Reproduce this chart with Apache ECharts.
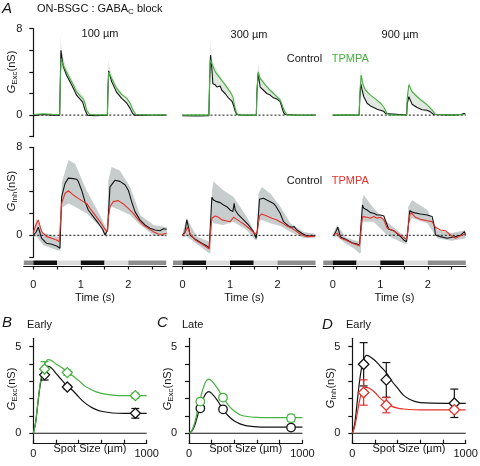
<!DOCTYPE html>
<html><head><meta charset="utf-8">
<script src="https://cdn.jsdelivr.net/npm/echarts@6/dist/echarts.min.js"></script>
<style>html,body{margin:0;padding:0;background:#fff}#c{width:480px;height:466px}</style>
</head><body><div id="c"></div>
<script>
// ---------------- DATA ----------------
const spotLabels = ['100 µm', '300 µm', '900 µm'];
// Excitatory conductance traces [time s, nS]
const excCtrl100 = [[0,-0.05],[0.2,0.05],[0.4,0],[0.555,-0.02],[0.57,3.5],[0.582,6.0],[0.6,5.4],[0.632,4.5],[0.70,3.7],[0.77,3.1],[0.84,2.5],[0.91,1.85],[0.98,1.5],[1.04,1.2],[1.09,0.45],[1.14,0],[1.3,-0.06],[1.56,-0.02],[1.57,2.0],[1.586,4.1],[1.65,3.1],[1.75,2.15],[1.86,1.55],[1.97,1.1],[2.04,0.6],[2.09,0.15],[2.14,0],[2.5,-0.02],[2.8,0]];
const excTp100 = [[0,0.05],[0.2,0.12],[0.4,0.08],[0.555,0.05],[0.57,3.0],[0.582,5.25],[0.632,4.6],[0.70,4.0],[0.77,3.4],[0.84,2.8],[0.91,2.15],[0.98,1.8],[1.05,1.5],[1.09,1.1],[1.12,0.45],[1.19,0.05],[1.4,0.02],[1.56,0.02],[1.57,2.0],[1.586,4.0],[1.65,3.4],[1.75,2.5],[1.86,1.9],[1.97,1.55],[2.04,1.1],[2.1,0.45],[2.16,0.05],[2.5,0],[2.8,0.02]];
const excCtrl300 = [[0,-0.05],[0.3,-0.08],[0.555,-0.05],[0.568,2.5],[0.59,5.55],[0.618,4.3],[0.639,2.9],[0.688,2.8],[0.723,2.6],[0.758,2.5],[0.793,2.7],[0.828,2.3],[0.898,2.0],[0.968,1.6],[1.039,1.3],[1.074,0.9],[1.109,0.35],[1.144,0.05],[1.3,-0.03],[1.555,-0.02],[1.565,2.0],[1.593,3.85],[1.635,2.6],[1.705,2.3],[1.775,2.0],[1.846,1.85],[1.916,1.6],[1.986,1.5],[2.056,1.25],[2.091,0.75],[2.126,0.25],[2.161,0.05],[2.5,-0.02],[2.8,0]];
const excTp300 = [[0,0],[0.3,0.02],[0.555,0],[0.568,2.5],[0.582,5.1],[0.618,4.8],[0.688,4.0],[0.793,3.4],[0.898,2.8],[1.004,2.15],[1.06,1.7],[1.095,0.9],[1.13,0.25],[1.179,0],[1.555,0],[1.565,2.0],[1.593,4.0],[1.635,3.4],[1.74,2.8],[1.846,2.3],[1.951,1.85],[2.056,1.4],[2.112,0.75],[2.161,0.25],[2.211,0],[2.8,0]];
const excCtrl900 = [[0,-0.03],[0.3,0],[0.555,-0.02],[0.568,1.5],[0.59,2.9],[0.618,2.3],[0.653,1.7],[0.723,1.1],[0.793,0.85],[0.863,0.7],[0.933,0.55],[1.004,0.45],[1.074,0.35],[1.109,0.15],[1.144,0],[1.555,0],[1.565,1.0],[1.60,1.7],[1.67,1.0],[1.775,0.7],[1.881,0.5],[1.986,0.45],[2.056,0.3],[2.126,0.05],[2.5,0],[2.7,0.05],[2.76,0.15],[2.79,0.1]];
const excTp900 = [[0,0],[0.3,0.02],[0.555,0],[0.568,2.0],[0.596,3.7],[0.639,2.8],[0.688,2.3],[0.793,1.85],[0.898,1.5],[1.004,1.1],[1.074,0.75],[1.13,0.25],[1.179,0],[1.555,0],[1.565,1.5],[1.60,2.8],[1.67,2.15],[1.775,1.7],[1.881,1.3],[1.986,0.95],[2.091,0.45],[2.161,0.05],[2.5,0],[2.79,0.05]];
// SEM bands [time, low, high]
const excBand100 = [[0.555,0,0.2],[0.575,4.5,7.4],[0.6,4.3,6.0],[0.65,4.0,5.0],[0.75,3.2,3.9],[0.9,2.0,2.6],[1.05,1.2,1.8],[1.12,0.3,0.8],[1.19,0,0.15],[1.56,0,0.1],[1.58,3.6,5.1],[1.62,3.3,4.2],[1.75,2.0,2.7],[1.95,1.1,1.75],[2.1,0.2,0.6],[2.17,0,0.1]];
const excBand300 = [[0.555,0,0.2],[0.59,4.6,6.9],[0.62,4.2,5.3],[0.65,2.8,4.7],[0.8,2.5,3.6],[1.0,1.7,2.3],[1.1,0.3,1.0],[1.18,0,0.1],[1.555,0,0.1],[1.59,3.6,4.9],[1.64,2.5,3.6],[1.85,1.8,2.4],[2.05,1.2,1.6],[2.15,0.1,0.5],[2.21,0,0.05]];
const excBand900 = [[0.555,0,0.2],[0.59,2.7,4.6],[0.63,1.7,3.0],[0.75,0.9,2.0],[1.0,0.4,1.2],[1.15,0,0.3],[1.2,0,0.05],[1.555,0,0.1],[1.6,1.6,3.1],[1.7,0.8,2.2],[1.9,0.4,1.4],[2.1,0.05,0.6],[2.2,0,0.05]];
// Inhibitory conductance traces
const inhCtrl100 = [[0,0],[0.06,0.3],[0.105,0.73],[0.175,-0.27],[0.281,-0.73],[0.386,-0.82],[0.491,-0.97],[0.561,-1.18],[0.575,-1.1],[0.596,3.5],[0.667,4.7],[0.737,5.2],[0.842,5.15],[0.912,5.1],[0.947,4.9],[1.018,4.1],[1.088,3.06],[1.158,2.3],[1.263,1.7],[1.368,1.1],[1.46,0.55],[1.509,0.03],[1.544,-0.12],[1.565,0.5],[1.614,4.4],[1.719,5.0],[1.754,5.05],[1.825,4.9],[1.93,4.6],[2.0,4.1],[2.07,3.06],[2.14,2.15],[2.246,1.4],[2.351,0.94],[2.456,0.64],[2.561,0.48],[2.667,0.42],[2.74,0.6],[2.807,0.55]];
const inhTp100 = [[0,0.2],[0.05,0.9],[0.105,1.4],[0.175,0.33],[0.281,-0.12],[0.386,-0.27],[0.491,-0.42],[0.547,-0.58],[0.575,-0.45],[0.596,2.9],[0.667,3.8],[0.737,4.05],[0.842,3.67],[0.947,3.36],[1.053,3.06],[1.123,2.9],[1.193,2.45],[1.298,1.85],[1.404,1.24],[1.509,0.55],[1.558,0.33],[1.579,1.5],[1.614,2.6],[1.684,3.06],[1.789,3.15],[1.895,2.85],[2.0,2.45],[2.105,2.0],[2.211,1.4],[2.316,0.94],[2.421,0.64],[2.526,0.33],[2.632,0.12],[2.737,0.09],[2.807,0.18]];
const inhCtrl300 = [[0,0],[0.05,0.3],[0.091,1.4],[0.161,0.03],[0.267,-0.36],[0.407,-0.73],[0.512,-0.97],[0.561,-1.18],[0.58,-1.0],[0.618,3.45],[0.653,3.2],[0.723,3.06],[0.793,2.97],[0.863,2.76],[0.933,2.6],[1.004,2.3],[1.06,2.15],[1.088,2.9],[1.109,2.3],[1.179,1.85],[1.284,1.4],[1.389,0.94],[1.495,0.33],[1.551,-0.27],[1.575,0.5],[1.621,3.27],[1.705,3.36],[1.775,3.2],[1.846,3.06],[1.916,2.9],[1.972,2.6],[2.056,2.0],[2.126,1.24],[2.232,0.85],[2.302,0.73],[2.351,0.79],[2.407,0.48],[2.512,0.18],[2.618,-0.06],[2.793,-0.05]];
const inhTp300 = [[0,0],[0.05,0.2],[0.105,0.73],[0.161,0.12],[0.267,-0.42],[0.407,-0.79],[0.512,-1.09],[0.561,-1.24],[0.58,-1.1],[0.618,1.55],[0.688,1.76],[0.758,1.64],[0.828,1.4],[0.933,1.3],[1.004,1.24],[1.074,1.64],[1.144,1.45],[1.214,1.24],[1.319,0.94],[1.425,0.55],[1.53,0.12],[1.551,-0.06],[1.575,0.3],[1.621,1.76],[1.67,1.94],[1.775,1.76],[1.881,1.55],[1.986,1.4],[2.091,1.15],[2.196,0.85],[2.302,0.64],[2.407,0.33],[2.512,0.03],[2.618,-0.12],[2.793,-0.1]];
const inhCtrl900 = [[0.02,0],[0.06,0.3],[0.105,0.73],[0.161,-0.15],[0.267,-0.36],[0.407,-0.67],[0.512,-0.79],[0.561,-0.88],[0.58,-0.7],[0.625,2.76],[0.653,2.45],[0.723,2.3],[0.793,2.06],[0.863,2.0],[0.933,1.85],[1.004,1.85],[1.074,1.76],[1.13,1.1],[1.179,0.55],[1.284,0.42],[1.389,0.03],[1.495,-0.42],[1.551,-0.58],[1.575,0.2],[1.621,2.24],[1.705,2.06],[1.846,1.94],[1.986,1.85],[2.091,1.7],[2.14,0.79],[2.161,0.03],[2.267,-0.12],[2.407,-0.27],[2.547,-0.15],[2.688,0],[2.772,0.33],[2.793,0.05]];
const inhTp900 = [[0.02,0.1],[0.06,0.15],[0.105,0.18],[0.161,-0.27],[0.267,-0.42],[0.407,-0.73],[0.512,-0.88],[0.561,-0.97],[0.58,-0.8],[0.625,1.7],[0.723,1.64],[0.793,1.55],[0.863,1.7],[0.933,1.55],[1.004,1.64],[1.074,1.4],[1.144,0.64],[1.249,0.48],[1.354,0.18],[1.46,-0.12],[1.551,-0.36],[1.575,0.3],[1.621,1.85],[1.649,2.06],[1.74,1.64],[1.846,1.45],[1.986,1.33],[2.091,1.24],[2.161,0.73],[2.267,0.48],[2.372,0.42],[2.477,0.03],[2.582,-0.27],[2.688,-0.05],[2.793,0.12]];
const inhBand100 = [[0,-0.2,0.3],[0.07,-0.1,1.55],[0.21,-0.9,0.2],[0.49,-1.33,-0.12],[0.57,-1.4,-0.2],[0.6,2.5,4.8],[0.74,2.9,6.85],[0.88,2.6,6.5],[1.12,2.0,4.1],[1.40,0.8,1.85],[1.55,-0.3,0.5],[1.58,2.0,5.0],[1.65,2.6,6.2],[1.82,2.3,5.9],[2.04,1.85,4.4],[2.25,0.94,1.85],[2.53,0,0.94],[2.81,-0.12,0.73]];
const inhBand300 = [[0,-0.2,0.2],[0.09,-0.1,1.55],[0.30,-0.79,-0.12],[0.56,-1.64,-0.58],[0.59,-1.6,-0.5],[0.62,1.4,4.0],[0.65,1.1,4.9],[0.86,0.94,4.1],[1.07,1.24,3.5],[1.35,0.48,1.7],[1.53,-0.42,0.18],[1.575,-0.4,0.2],[1.6,1.3,3.8],[1.67,1.4,4.4],[1.85,1.1,3.8],[2.06,0.85,2.6],[2.27,0.33,1.1],[2.55,-0.27,0.3],[2.79,-0.2,0.15]];
const inhBand900 = [[0.02,-0.2,0.3],[0.09,-0.1,0.94],[0.28,-0.8,-0.2],[0.44,-1.18,-0.42],[0.56,-1.64,-0.58],[0.59,-1.6,-0.5],[0.62,1.3,3.2],[0.65,1.24,3.67],[0.86,1.24,2.45],[1.14,0.03,1.24],[1.43,-0.6,0.18],[1.56,-0.8,-0.2],[1.59,1.0,2.6],[1.67,1.55,3.2],[1.99,1.1,2.3],[2.2,-0.27,0.48],[2.5,-0.5,0.2],[2.79,-0.3,0.45]];
// Stimulus protocol segments (s); level 0 = light, 1 = mean grey, 2 = dark
const stimStart = [-0.2, 0, 0.5, 1.0, 1.5, 2.0];
const stimEnd = [0, 0.5, 1.0, 1.5, 2.0, 2.8];
const stimLevel = [1, 2, 0, 2, 0, 1];
const timeTicks = [0, 0.5, 1, 1.5, 2, 2.5];
const timeLabels = [0, 1, 2];
// Spot-size tuning (µm, nS)
const spotX = [100, 300, 900];
const bCtrl = [3.37, 2.67, 1.15], bCtrlErr = [0.3, 0.1, 0.28];
const bTp = [3.71, 3.5, 2.17], bTpErr = [0.42, 0.15, 0.15];
const cCtrl = [1.44, 1.38, 0.33], cCtrlErr = [0.1, 0.1, 0.05];
const cTp = [1.83, 2.06, 0.87], cTpErr = [0.12, 0.12, 0.18];
const dCtrl = [3.98, 3.08, 1.73], dCtrlErr = [1.25, 1.0, 0.82];
const dTp = [2.35, 1.62, 1.35], dTpErr = [0.73, 0.44, 0.12];
const bFitCtrl = [[0,0],[20,0.6],[40,1.7],[60,2.75],[80,3.4],[100,3.75],[120,3.87],[140,3.85],[170,3.7],[200,3.45],[250,3.08],[300,2.72],[350,2.45],[400,2.1],[450,1.78],[500,1.55],[550,1.38],[600,1.27],[700,1.17],[800,1.15],[1000,1.15]];
const bFitTp = [[0,0],[20,0.6],[40,1.75],[60,2.85],[80,3.55],[100,3.98],[130,4.25],[160,4.2],[200,4.0],[250,3.8],[300,3.57],[350,3.3],[400,3.05],[450,2.75],[500,2.55],[550,2.4],[600,2.3],[700,2.2],[800,2.17],[1000,2.17]];
const cFitCtrl = [[0,0],[25,0.12],[50,0.45],[75,1.0],[100,1.55],[125,2.0],[150,2.3],[175,2.4],[200,2.3],[250,1.9],[300,1.38],[350,0.98],[400,0.7],[450,0.54],[500,0.44],[600,0.37],[800,0.35],[1000,0.35]];
const cFitTp = [[0,0],[25,0.15],[50,0.6],[75,1.3],[100,2.0],[125,2.6],[150,3.0],[175,3.12],[200,3.02],[250,2.6],[300,2.07],[350,1.6],[400,1.28],[450,1.07],[500,0.98],[600,0.92],[800,0.9],[1000,0.9]];
const dFitCtrl = [[0,0],[20,0.5],[40,1.6],[60,2.8],[80,3.7],[100,4.25],[125,4.5],[150,4.45],[200,4.2],[250,3.85],[300,3.5],[350,3.0],[400,2.6],[450,2.2],[500,1.98],[550,1.84],[600,1.77],[700,1.74],[1000,1.73]];
const dFitTp = [[0,0],[20,0.35],[40,1.0],[60,1.75],[80,2.3],[100,2.55],[120,2.65],[150,2.6],[200,2.35],[250,2.0],[300,1.75],[350,1.55],[400,1.45],[450,1.4],[500,1.37],[600,1.35],[1000,1.35]];
const spotTicks = [0, 200, 400, 600, 800, 1000];
const spotLabelVals = [0, 1000];
const condTicks = [0, 1, 2, 3, 4, 5];
const condLabels = [0, 5];

// ---------------- CHART ----------------
const FONT = '"Liberation Sans", Arial, Helvetica, sans-serif';
const INK = '#141414', GREEN = '#46b13f', RED = '#e3322b';
const BAND_EXC = 'rgba(165,190,165,0.35)', BAND_INH = 'rgba(175,182,182,0.7)';
const stimColors = ['#dcdcdc', '#8e8e8e', '#111111'];
const chart = echarts.init(document.getElementById('c'), null, {renderer: 'canvas'});
const grids = [], xAxes = [], yAxes = [], series = [];
const axisLineStyle = {color: INK, width: 1.2};
function addGrid(g, xa, ya) {
  g.containLabel = false; g.outerBoundsMode = 'none';
  grids.push(g); const i = grids.length - 1;
  xa.gridIndex = i; ya.gridIndex = i; xAxes.push(xa); yAxes.push(ya); return i;
}
function bandSeries(band, gi, color) {
  return {type: 'custom', xAxisIndex: gi, yAxisIndex: gi, data: band, silent: true, z: 1,
    renderItem: function (params, api) {
      if (params.dataIndex !== 0) return null;
      const up = band.map(p => api.coord([p[0], p[2]]));
      const lo = band.slice().reverse().map(p => api.coord([p[0], p[1]]));
      return {type: 'polygon', shape: {points: up.concat(lo)}, style: {fill: color}};
    }};
}
function lineSeries(data, gi, color, w, smooth) {
  return {type: 'line', xAxisIndex: gi, yAxisIndex: gi, data: data, showSymbol: false, silent: true,
    smooth: smooth || false, lineStyle: {color: color, width: w || 1.1}, z: 2, animation: false};
}
function zeroLine(gi) {
  return {type: 'line', xAxisIndex: gi, yAxisIndex: gi, data: [[0, 0], [2.8, 0]], showSymbol: false, silent: true,
    lineStyle: {color: INK, width: 1, type: [2, 2]}, z: 1.5};
}
function errSeries(xs, ys, es, gi, color) {
  const data = xs.map((x, i) => [x, ys[i] - es[i], ys[i] + es[i]]);
  return {type: 'custom', xAxisIndex: gi, yAxisIndex: gi, data: data, silent: true, z: 3,
    renderItem: function (params, api) {
      const x = api.value(0);
      const a = api.coord([x, api.value(2)]), b = api.coord([x, api.value(1)]);
      const w = 4, st = {stroke: color, lineWidth: 1.2};
      return {type: 'group', children: [
        {type: 'line', shape: {x1: a[0], y1: a[1], x2: b[0], y2: b[1]}, style: st},
        {type: 'line', shape: {x1: a[0] - w, y1: a[1], x2: a[0] + w, y2: a[1]}, style: st},
        {type: 'line', shape: {x1: b[0] - w, y1: b[1], x2: b[0] + w, y2: b[1]}, style: st}]};
    }};
}
function markerSeries(xs, ys, gi, color, symbol, size) {
  return {type: 'scatter', xAxisIndex: gi, yAxisIndex: gi, data: xs.map((x, i) => [x, ys[i]]), silent: true,
    symbol: symbol, symbolSize: size, z: 4, itemStyle: {color: '#ffffff', opacity: 1, borderColor: color, borderWidth: 1.3}};
}

const panelLeft = [23.8, 173, 323.3];
const excSets = [[excBand100, excCtrl100, excTp100], [excBand300, excCtrl300, excTp300], [excBand900, excCtrl900, excTp900]];
const inhSets = [[inhBand100, inhCtrl100, inhTp100], [inhBand300, inhCtrl300, inhTp300], [inhBand900, inhCtrl900, inhTp900]];
const hiddenX = () => ({type: 'value', min: -0.2, max: 2.8, show: false, axisLine: {onZero: false}, splitLine: {show: false}});
function traceY(first) {
  return {type: 'value', min: -2, max: 8, interval: 2, show: first, offset: -9.5,
    axisLine: {show: true, onZero: false, lineStyle: axisLineStyle},
    axisTick: {show: true, length: 4, lineStyle: axisLineStyle},
    axisLabel: {margin: 11, color: INK, fontSize: 11, fontFamily: FONT, formatter: v => (v === 0 || v === 8) ? String(v) : ''},
    splitLine: {show: false}};
}
for (let p = 0; p < 3; p++) {
  const gi = addGrid({left: panelLeft[p], top: 28.7, width: 142.5, height: 108}, hiddenX(), traceY(p === 0));
  series.push(bandSeries(excSets[p][0], gi, BAND_EXC), zeroLine(gi), lineSeries(excSets[p][1], gi, INK), lineSeries(excSets[p][2], gi, GREEN));
}
for (let p = 0; p < 3; p++) {
  const gi = addGrid({left: panelLeft[p], top: 147.3, width: 142.5, height: 110}, hiddenX(), traceY(p === 0));
  series.push(bandSeries(inhSets[p][0], gi, BAND_INH), zeroLine(gi), lineSeries(inhSets[p][1], gi, INK), lineSeries(inhSets[p][2], gi, RED));
}
const stimData = stimStart.map((s, i) => [s, stimEnd[i], stimLevel[i]]);
for (let p = 0; p < 3; p++) {
  const gi = addGrid({left: panelLeft[p], top: 260.5, width: 142.5, height: 4.5},
    {type: 'value', min: -0.2, max: 2.8, position: 'bottom', offset: 1.5,
      axisLine: {show: true, onZero: false, lineStyle: axisLineStyle},
      axisTick: {show: true, length: 3, customValues: timeTicks, lineStyle: axisLineStyle},
      axisLabel: {customValues: timeLabels, margin: 12.5, color: INK, fontSize: 11, fontFamily: FONT, formatter: v => String(v)},
      splitLine: {show: false},
      name: 'Time (s)', nameLocation: 'middle', nameGap: 25.5, nameMoveOverlap: false,
      nameTextStyle: {color: INK, fontSize: 11, fontFamily: FONT}},
    {type: 'value', min: 0, max: 1, show: false, splitLine: {show: false}});
  series.push({type: 'custom', xAxisIndex: gi, yAxisIndex: gi, data: stimData, silent: true,
    renderItem: function (params, api) {
      const a = api.coord([api.value(0), 1]), b = api.coord([api.value(1), 0]);
      return {type: 'rect', shape: {x: a[0], y: a[1], width: b[0] - a[0], height: b[1] - a[1]},
        style: {fill: stimColors[stimLevel[params.dataIndex]]}};
    }});
}
const tuneLeft = [33.3, 189, 352.3];
const tuneSets = [
  [bFitCtrl, bFitTp, bCtrl, bCtrlErr, bTp, bTpErr, GREEN, 'diamond', 10],
  [cFitCtrl, cFitTp, cCtrl, cCtrlErr, cTp, cTpErr, GREEN, 'circle', 8.5],
  [dFitCtrl, dFitTp, dCtrl, dCtrlErr, dTp, dTpErr, RED, 'diamond', 10.5]];
for (let p = 0; p < 3; p++) {
  const s = tuneSets[p];
  const gi = addGrid({left: tuneLeft[p], top: 338.3, width: 113.4, height: 105},
    {type: 'value', min: 0, max: 1000, position: 'bottom',
      axisLine: {show: true, onZero: false, lineStyle: axisLineStyle},
      axisTick: {show: true, inside: true, length: 3.5, customValues: spotTicks, lineStyle: axisLineStyle},
      axisLabel: {customValues: spotLabelVals, margin: 5, color: INK, fontSize: 11, fontFamily: FONT, formatter: v => String(v)},
      splitLine: {show: false},
      name: 'Spot Size (µm)', nameLocation: 'middle', nameGap: 0, nameMoveOverlap: false,
      nameTextStyle: {color: INK, fontSize: 11, fontFamily: FONT}},
    {type: 'value', min: -0.58, max: 5.48,
      axisLine: {show: true, onZero: false, lineStyle: axisLineStyle},
      axisTick: {show: true, length: 4, customValues: condTicks, lineStyle: axisLineStyle},
      axisLabel: {customValues: condLabels, margin: 12, color: INK, fontSize: 11, fontFamily: FONT, formatter: v => String(v)},
      splitLine: {show: false}});
  series.push(
    {type: 'line', xAxisIndex: gi, yAxisIndex: gi, data: [[0, 0], [1000, 0]], showSymbol: false, silent: true, lineStyle: {color: INK, width: 1.1}, z: 1},
    lineSeries(s[0], gi, INK, 1.2, 0.35), lineSeries(s[1], gi, s[6], 1.2, 0.35),
    errSeries(spotX, s[2], s[3], gi, INK), errSeries(spotX, s[4], s[5], gi, s[6]),
    markerSeries(spotX, s[2], gi, INK, s[7], s[8]), markerSeries(spotX, s[4], gi, s[6], s[7], s[8]));
}

// ---------------- TEXT ----------------
const richSub = {
  g: {fontSize: 11, fontStyle: 'italic', fontFamily: FONT, lineHeight: 13, fill: INK},
  n: {fontSize: 11, fontFamily: FONT, lineHeight: 13, fill: INK},
  s: {fontSize: 8, fontFamily: FONT, lineHeight: 9, padding: [6, 0, 0, 0], fill: INK}};
function txt(x, y, text, extra, elExtra) {
  return Object.assign({type: 'text', x: x, y: y, silent: true, z: 100,
    style: Object.assign({text: text, fill: INK, fontFamily: FONT, fontSize: 11, align: 'left', verticalAlign: 'middle'}, extra || {})}, elExtra || {});
}
function yName(x, y, sub) {
  return txt(x, y, '{g|G}{s|' + sub + '}{n|(nS)}', {align: 'center', rich: richSub}, {rotation: Math.PI / 2});
}
const letter = {fontSize: 15, fontStyle: 'italic'};
const graphics = [
  txt(2, 9, 'A', letter),
  txt(37, 8.5, '{n|ON-BSGC : GABA}{s|C}{n| block}', {rich: richSub}),
  txt(100, 34, spotLabels[0], {align: 'center'}),
  txt(249, 35, spotLabels[1], {align: 'center'}),
  txt(400, 35, spotLabels[2], {align: 'center'}),
  txt(286.7, 59.3, 'Control'), txt(331.7, 59.3, 'TPMPA', {fill: GREEN}),
  txt(286.7, 180.7, 'Control'), txt(331.7, 180.7, 'TPMPA', {fill: RED}),
  yName(12, 72, 'Exc'), yName(12, 191, 'Inh'),
  txt(2, 323, 'B', letter), txt(27, 324.5, 'Early'),
  txt(157, 323, 'C', letter), txt(182, 324.5, 'Late'),
  txt(322, 325, 'D', letter), txt(346, 325, 'Early'),
  yName(11.5, 389, 'Exc'), yName(168, 389, 'Exc'), yName(331, 388, 'Inh')
];

chart.setOption({
  animation: false,
  backgroundColor: '#fff',
  textStyle: {fontFamily: FONT},
  grid: grids, xAxis: xAxes, yAxis: yAxes, series: series,
  graphic: graphics
});
</script></body></html>
